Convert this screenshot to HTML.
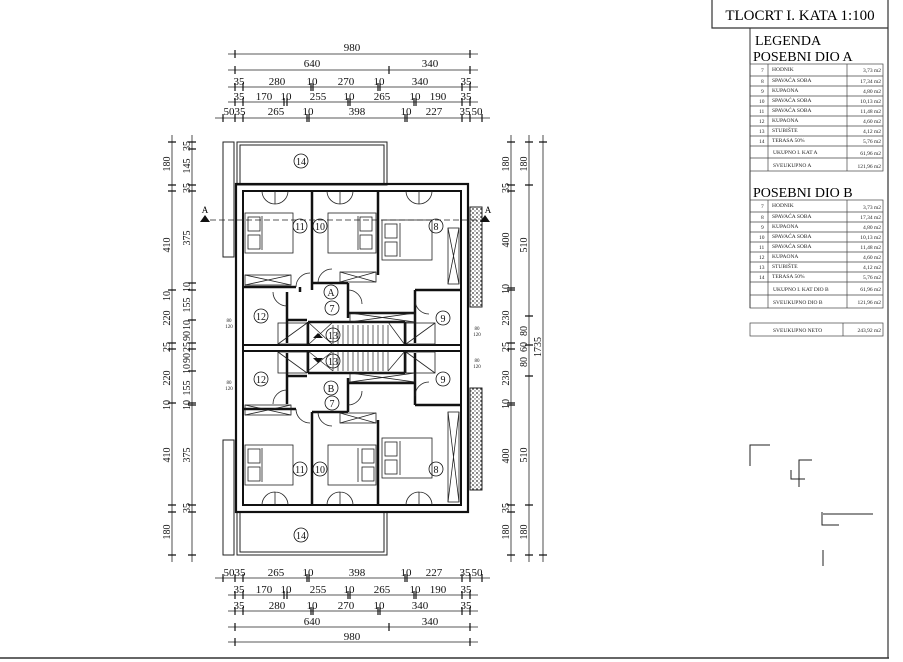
<!DOCTYPE html>
<html><head><meta charset="utf-8"><style>
html,body{margin:0;padding:0;background:#fff;}
svg{display:block;font-family:"Liberation Serif",serif;}
</style></head><body>
<svg width="903" height="662" viewBox="0 0 903 662" xmlns="http://www.w3.org/2000/svg">
<rect width="903" height="662" fill="#fff"/>
<line x1="0" y1="658" x2="889" y2="658" stroke="#333" stroke-width="1.5"/>
<line x1="888" y1="0" x2="888" y2="658" stroke="#333" stroke-width="1.2"/>
<polyline points="712,0 712,28 888,28" fill="none" stroke="#333" stroke-width="1.2"/>
<text x="800" y="20" font-size="15" text-anchor="middle">TLOCRT I. KATA 1:100</text>
<line x1="750" y1="28" x2="750" y2="308" stroke="#333"/>
<text x="755" y="45" font-size="14">LEGENDA</text>
<text x="753" y="61" font-size="14">POSEBNI DIO A</text>
<g font-size="5.5" fill="#222">
<g stroke="#444" stroke-width="0.7" fill="none">
<rect x="750" y="64" width="133" height="107"/>
<line x1="768" y1="64" x2="768" y2="171"/><line x1="847" y1="64" x2="847" y2="171"/>
<line x1="750" y1="76" x2="883" y2="76"/><line x1="750" y1="86" x2="883" y2="86"/>
<line x1="750" y1="96" x2="883" y2="96"/><line x1="750" y1="106" x2="883" y2="106"/>
<line x1="750" y1="116" x2="883" y2="116"/><line x1="750" y1="126" x2="883" y2="126"/>
<line x1="750" y1="136" x2="883" y2="136"/><line x1="750" y1="146" x2="883" y2="146"/>
<line x1="750" y1="158" x2="883" y2="158"/>
</g>
<text x="761" y="72">7</text><text x="772" y="71">HODNIK</text><text x="881" y="72" text-anchor="end">3,73 m2</text>
<text x="761" y="83">8</text><text x="772" y="82">SPAVAĆA SOBA</text><text x="881" y="83" text-anchor="end">17,34 m2</text>
<text x="761" y="93">9</text><text x="772" y="92">KUPAONA</text><text x="881" y="93" text-anchor="end">4,80 m2</text>
<text x="759" y="103">10</text><text x="772" y="102">SPAVAĆA SOBA</text><text x="881" y="103" text-anchor="end">10,13 m2</text>
<text x="759" y="113">11</text><text x="772" y="112">SPAVAĆA SOBA</text><text x="881" y="113" text-anchor="end">11,48 m2</text>
<text x="759" y="123">12</text><text x="772" y="122">KUPAONA</text><text x="881" y="123" text-anchor="end">4,60 m2</text>
<text x="759" y="133">13</text><text x="772" y="132">STUBIŠTE</text><text x="881" y="133" text-anchor="end">4,12 m2</text>
<text x="759" y="143">14</text><text x="772" y="142">TERASA 50%</text><text x="881" y="143" text-anchor="end">5,76 m2</text>
<text x="773" y="154">UKUPNO I. KAT  A</text><text x="881" y="155" text-anchor="end">61,96 m2</text>
<text x="773" y="167">SVEUKUPNO A</text><text x="881" y="168" text-anchor="end">121,96 m2</text>
</g>
<text x="753" y="197" font-size="14">POSEBNI DIO B</text>
<g font-size="5.5" fill="#222">
<g stroke="#444" stroke-width="0.7" fill="none">
<rect x="750" y="200" width="133" height="108"/>
<line x1="768" y1="200" x2="768" y2="308"/><line x1="847" y1="200" x2="847" y2="308"/>
<line x1="750" y1="212" x2="883" y2="212"/><line x1="750" y1="222" x2="883" y2="222"/>
<line x1="750" y1="232" x2="883" y2="232"/><line x1="750" y1="242" x2="883" y2="242"/>
<line x1="750" y1="252" x2="883" y2="252"/><line x1="750" y1="262" x2="883" y2="262"/>
<line x1="750" y1="272" x2="883" y2="272"/><line x1="750" y1="282" x2="883" y2="282"/>
<line x1="750" y1="295" x2="883" y2="295"/>
</g>
<text x="761" y="208">7</text><text x="772" y="207">HODNIK</text><text x="881" y="209" text-anchor="end">3,73 m2</text>
<text x="761" y="219">8</text><text x="772" y="218">SPAVAĆA SOBA</text><text x="881" y="219" text-anchor="end">17,34 m2</text>
<text x="761" y="229">9</text><text x="772" y="228">KUPAONA</text><text x="881" y="229" text-anchor="end">4,80 m2</text>
<text x="759" y="239">10</text><text x="772" y="238">SPAVAĆA SOBA</text><text x="881" y="239" text-anchor="end">10,13 m2</text>
<text x="759" y="249">11</text><text x="772" y="248">SPAVAĆA SOBA</text><text x="881" y="249" text-anchor="end">11,48 m2</text>
<text x="759" y="259">12</text><text x="772" y="258">KUPAONA</text><text x="881" y="259" text-anchor="end">4,60 m2</text>
<text x="759" y="269">13</text><text x="772" y="268">STUBIŠTE</text><text x="881" y="269" text-anchor="end">4,12 m2</text>
<text x="759" y="279">14</text><text x="772" y="278">TERASA 50%</text><text x="881" y="279" text-anchor="end">5,76 m2</text>
<text x="773" y="291">UKUPNO I. KAT DIO B</text><text x="881" y="291" text-anchor="end">61,96 m2</text>
<text x="773" y="304">SVEUKUPNO DIO B</text><text x="881" y="304" text-anchor="end">121,96 m2</text>
<rect x="750" y="323" width="133" height="13" fill="none" stroke="#444" stroke-width="0.7"/>
<line x1="843" y1="323" x2="843" y2="336" stroke="#444" stroke-width="0.7"/>
<text x="773" y="332">SVEUKUPNO NETO</text><text x="881" y="332" text-anchor="end">243,92 m2</text>
</g>
<g stroke="#222" stroke-width="1" fill="none">
<polyline points="770,445 750,445 750,466"/>
<polyline points="812,460 799,460 799,487"/><polyline points="791,470 791,479 805,479"/>
<polyline points="873,514 823,514"/><polyline points="822,512 822,525 839,525"/>
<line x1="823" y1="550" x2="823" y2="566"/>
</g>

<g stroke="#222" stroke-width="0.8" fill="none">
<line x1="228" y1="54" x2="478" y2="54"/><line x1="228" y1="70" x2="478" y2="70"/>
<line x1="228" y1="87" x2="478" y2="87"/><line x1="228" y1="102" x2="478" y2="102"/>
<line x1="215" y1="118" x2="490" y2="118"/>
<line x1="215" y1="578" x2="490" y2="578"/><line x1="228" y1="595" x2="478" y2="595"/>
<line x1="228" y1="611" x2="478" y2="611"/><line x1="228" y1="627" x2="478" y2="627"/>
<line x1="228" y1="642" x2="478" y2="642"/>
<line x1="172" y1="135" x2="172" y2="562"/><line x1="192" y1="135" x2="192" y2="562"/>
<line x1="511" y1="135" x2="511" y2="562"/><line x1="529" y1="135" x2="529" y2="562"/>
<line x1="543" y1="135" x2="543" y2="562"/>
</g>
<g stroke="#111" stroke-width="1.2">
<path d="M235 50v8M470 50v8 M235 66v8M389 66v8M470 66v8 M235 83v8M243 83v8M311 83v8M313 83v8M378 83v8M380 83v8M462 83v8M470 83v8 M235 98v8M243 98v8M284 98v8M287 98v8M348 98v8M350 98v8M414 98v8M416 98v8M462 98v8M470 98v8 M223 114v8M235 114v8M243 114v8M307 114v8M309 114v8M405 114v8M407 114v8M462 114v8M470 114v8M482 114v8"/>
<path d="M223 574v8M235 574v8M243 574v8M307 574v8M309 574v8M405 574v8M407 574v8M462 574v8M470 574v8M482 574v8 M235 591v8M243 591v8M284 591v8M287 591v8M348 591v8M350 591v8M414 591v8M416 591v8M462 591v8M470 591v8 M235 607v8M243 607v8M311 607v8M313 607v8M378 607v8M380 607v8M462 607v8M470 607v8 M235 623v8M389 623v8M470 623v8 M235 638v8M470 638v8"/>
<path d="M168 142h8M168 185h8M168 191h8M168 290h8M168 343h8M168 349h8M168 403h8M168 505h8M168 512h8M168 555h8 M188 142h8M188 149h8M188 185h8M188 191h8M188 283h8M188 290h8M188 320h8M188 343h8M188 349h8M188 371h8M188 403h8M188 405h8M188 505h8M188 512h8M188 555h8"/>
<path d="M507 142h8M507 185h8M507 191h8M507 288h8M507 290h8M507 343h8M507 349h8M507 403h8M507 405h8M507 505h8M507 512h8M507 555h8 M525 142h8M525 185h8M525 316h8M525 345h8M525 376h8M525 505h8M525 555h8 M539 142h8M539 555h8"/>
</g>
<g font-size="11" fill="#111" text-anchor="middle">
<text x="352" y="51">980</text><text x="312" y="67">640</text><text x="430" y="67">340</text>
<text x="239" y="85">35</text><text x="277" y="85">280</text><text x="312" y="85">10</text><text x="346" y="85">270</text><text x="379" y="85">10</text><text x="420" y="85">340</text><text x="466" y="85">35</text>
<text x="239" y="100">35</text><text x="264" y="100">170</text><text x="286" y="100">10</text><text x="318" y="100">255</text><text x="349" y="100">10</text><text x="382" y="100">265</text><text x="415" y="100">10</text><text x="438" y="100">190</text><text x="466" y="100">35</text>
<text x="229" y="115">50</text><text x="240" y="115">35</text><text x="276" y="115">265</text><text x="308" y="115">10</text><text x="357" y="115">398</text><text x="406" y="115">10</text><text x="434" y="115">227</text><text x="465" y="115">35</text><text x="477" y="115">50</text>
<text x="229" y="576">50</text><text x="240" y="576">35</text><text x="276" y="576">265</text><text x="308" y="576">10</text><text x="357" y="576">398</text><text x="406" y="576">10</text><text x="434" y="576">227</text><text x="465" y="576">35</text><text x="477" y="576">50</text>
<text x="239" y="593">35</text><text x="264" y="593">170</text><text x="286" y="593">10</text><text x="318" y="593">255</text><text x="349" y="593">10</text><text x="382" y="593">265</text><text x="415" y="593">10</text><text x="438" y="593">190</text><text x="466" y="593">35</text>
<text x="239" y="609">35</text><text x="277" y="609">280</text><text x="312" y="609">10</text><text x="346" y="609">270</text><text x="379" y="609">10</text><text x="420" y="609">340</text><text x="466" y="609">35</text>
<text x="312" y="625">640</text><text x="430" y="625">340</text><text x="352" y="640">980</text>
</g>
<g font-size="10" fill="#111" text-anchor="middle">
<text transform="translate(170,164) rotate(-90)">180</text>
<text transform="translate(170,245) rotate(-90)">410</text>
<text transform="translate(170,296) rotate(-90)">10</text>
<text transform="translate(170,318) rotate(-90)">220</text>
<text transform="translate(170,347) rotate(-90)">25</text>
<text transform="translate(170,378) rotate(-90)">220</text>
<text transform="translate(170,405) rotate(-90)">10</text>
<text transform="translate(170,455) rotate(-90)">410</text>
<text transform="translate(170,532) rotate(-90)">180</text>
<text transform="translate(190,146) rotate(-90)">35</text>
<text transform="translate(190,166) rotate(-90)">145</text>
<text transform="translate(190,188) rotate(-90)">35</text>
<text transform="translate(190,238) rotate(-90)">375</text>
<text transform="translate(190,287) rotate(-90)">10</text>
<text transform="translate(190,305) rotate(-90)">155</text>
<text transform="translate(190,325) rotate(-90)">10</text>
<text transform="translate(190,336) rotate(-90)">90</text>
<text transform="translate(190,347) rotate(-90)">25</text>
<text transform="translate(190,358) rotate(-90)">90</text>
<text transform="translate(190,369) rotate(-90)">10</text>
<text transform="translate(190,388) rotate(-90)">155</text>
<text transform="translate(190,405) rotate(-90)">10</text>
<text transform="translate(190,455) rotate(-90)">375</text>
<text transform="translate(190,508) rotate(-90)">35</text>
<text transform="translate(509,164) rotate(-90)">180</text>
<text transform="translate(509,188) rotate(-90)">35</text>
<text transform="translate(509,240) rotate(-90)">400</text>
<text transform="translate(509,289) rotate(-90)">10</text>
<text transform="translate(509,318) rotate(-90)">230</text>
<text transform="translate(509,347) rotate(-90)">25</text>
<text transform="translate(509,378) rotate(-90)">230</text>
<text transform="translate(509,404) rotate(-90)">10</text>
<text transform="translate(509,456) rotate(-90)">400</text>
<text transform="translate(509,508) rotate(-90)">35</text>
<text transform="translate(509,532) rotate(-90)">180</text>
<text transform="translate(527,164) rotate(-90)">180</text>
<text transform="translate(527,245) rotate(-90)">510</text>
<text transform="translate(527,331) rotate(-90)">80</text>
<text transform="translate(527,347) rotate(-90)">60</text>
<text transform="translate(527,362) rotate(-90)">80</text>
<text transform="translate(527,455) rotate(-90)">510</text>
<text transform="translate(527,532) rotate(-90)">180</text>
<text transform="translate(541,347) rotate(-90)">1735</text>
</g>

<g stroke="#222" fill="none" stroke-width="1">
<rect x="237" y="142" width="150" height="43"/><rect x="240" y="145" width="144" height="40"/>
<rect x="223" y="142" width="11" height="115"/>
<rect x="237" y="512" width="150" height="43"/><rect x="240" y="512" width="144" height="40"/>
<rect x="223" y="440" width="11" height="115"/>
</g>
<defs><pattern id="dots" width="4" height="4" patternUnits="userSpaceOnUse"><rect width="4" height="4" fill="#fff"/><circle cx="1" cy="1" r="0.9" fill="#333"/><circle cx="3" cy="3" r="0.7" fill="#555"/></pattern></defs>
<rect x="470" y="207" width="12" height="100" fill="url(#dots)" stroke="#222"/>
<rect x="470" y="388" width="12" height="102" fill="url(#dots)" stroke="#222"/>

<g stroke="#111" fill="none">
<rect x="236" y="184" width="232" height="328" stroke-width="2.2"/>
<rect x="243" y="191" width="218" height="314" stroke-width="2"/>
<line x1="243" y1="345" x2="461" y2="345" stroke-width="2"/>
<line x1="243" y1="351" x2="461" y2="351" stroke-width="2"/>
<g stroke-width="2.5">
<path d="M312 191V290 M378 191V275 M243 287H296 M312 283H348 M348 283V318 M348 313H415 M415 290H461 M415 290V343"/>
<path d="M287 292V343 M287 320H307 M308 322H405 M308 322V345 M405 322V345 M300 287V292"/>
<path d="M312 412V505 M378 420V505 M243 409H296 M312 412H348 M348 378V412 M348 383H415 M415 405H461 M415 353V405"/>
<path d="M287 353V404 M287 376H307 M308 373H405 M308 351V373 M405 351V373"/>
</g>
</g>
<g stroke="#222" stroke-width="0.7">
<path d="M333 325V345M338 325V345M343 325V345M348 325V345M353 325V345M358 325V345M363 325V345M368 325V345M373 325V345M378 325V345M383 325V345M388 325V345"/>
<path d="M333 351V371M338 351V371M343 351V371M348 351V371M353 351V371M358 351V371M363 351V371M368 351V371M373 351V371M378 351V371M383 351V371M388 351V371"/>
<path d="M308 322L333 345M308 345L333 322M308 351L333 371M308 371L333 351M388 322L405 345M388 371L405 351" fill="none"/>
</g>
<path d="M313 338l5-5 5 5z M313 358l5 5 5-5z" fill="#111"/>
<g stroke="#222" stroke-width="0.8" fill="none">
<rect x="278" y="323" width="29" height="21"/><path d="M278 344L307 323"/>
<rect x="406" y="323" width="29" height="21"/><path d="M406 344L435 323"/>
<rect x="278" y="352" width="29" height="21"/><path d="M278 352L307 373"/>
<rect x="406" y="352" width="29" height="21"/><path d="M406 352L435 373"/>
<rect x="245" y="275" width="46" height="10"/><path d="M245 275L291 285M245 285L291 275"/>
<rect x="340" y="272" width="36" height="10"/><path d="M340 272L376 282M340 282L376 272"/>
<rect x="245" y="405" width="46" height="10"/><path d="M245 405L291 415M245 415L291 405"/>
<rect x="340" y="413" width="36" height="10"/><path d="M340 413L376 423M340 423L376 413"/>
<rect x="448" y="228" width="11" height="56"/><path d="M448 228L459 284M459 228L448 284"/>
<rect x="448" y="412" width="11" height="90"/><path d="M448 412L459 502M459 412L448 502"/>
<rect x="350" y="313" width="65" height="9"/><path d="M350 313L415 322M350 322L415 313"/>
<rect x="350" y="373" width="65" height="9"/><path d="M350 373L415 382M350 382L415 373"/>
<rect x="245" y="213" width="48" height="40"/><rect x="248" y="217" width="12" height="14"/><rect x="248" y="235" width="12" height="14"/><path d="M262 216V250"/>
<rect x="328" y="213" width="48" height="40"/><rect x="360" y="217" width="12" height="14"/><rect x="360" y="235" width="12" height="14"/><path d="M358 216V250"/>
<rect x="382" y="220" width="50" height="40"/><rect x="385" y="224" width="12" height="14"/><rect x="385" y="242" width="12" height="14"/><path d="M400 223V257"/>
<rect x="245" y="445" width="48" height="40"/><rect x="248" y="449" width="12" height="14"/><rect x="248" y="467" width="12" height="14"/><path d="M262 448V482"/>
<rect x="328" y="445" width="48" height="40"/><rect x="362" y="449" width="12" height="14"/><rect x="362" y="467" width="12" height="14"/><path d="M358 448V482"/>
<rect x="382" y="438" width="50" height="40"/><rect x="385" y="442" width="12" height="14"/><rect x="385" y="460" width="12" height="14"/><path d="M400 441V475"/>
<path d="M262 191A13 13 0 0 0 275 204V191 M288 191A13 13 0 0 1 275 204 M327 191A13 13 0 0 0 340 204V191M353 191A13 13 0 0 1 340 204 M406 191A13 13 0 0 0 419 204V191M432 191A13 13 0 0 1 419 204"/>
<path d="M262 505A13 13 0 0 1 275 492V505 M288 505A13 13 0 0 0 275 492 M327 505A13 13 0 0 1 340 492V505M353 505A13 13 0 0 0 340 492 M406 505A13 13 0 0 1 419 492V505M432 505A13 13 0 0 0 419 492"/>
<path d="M296 287A14 14 0 0 1 310 273 M318 283A14 14 0 0 1 332 269 M348 290A14 14 0 0 1 362 304 M287 306A14 14 0 0 1 273 292 M415 300A14 14 0 0 0 429 314"/>
<path d="M296 409A14 14 0 0 0 310 423 M318 412A14 14 0 0 0 332 426 M348 405A14 14 0 0 0 362 391 M287 390A14 14 0 0 0 273 404 M415 396A14 14 0 0 1 429 382"/>
</g>
<g font-size="10" text-anchor="middle" fill="#111">
<g stroke="#111" fill="none" stroke-width="0.8">
<circle cx="301" cy="161" r="7"/><circle cx="301" cy="535" r="7"/>
<circle cx="300" cy="226" r="7"/><circle cx="320" cy="226" r="7"/><circle cx="436" cy="226" r="7"/>
<circle cx="300" cy="469" r="7"/><circle cx="320" cy="469" r="7"/><circle cx="436" cy="469" r="7"/>
<circle cx="331" cy="292" r="7"/><circle cx="332" cy="308" r="7"/><circle cx="331" cy="388" r="7"/><circle cx="332" cy="403" r="7"/>
<circle cx="261" cy="316" r="7"/><circle cx="443" cy="318" r="7"/><circle cx="261" cy="379" r="7"/><circle cx="443" cy="379" r="7"/>
<circle cx="333" cy="335" r="7"/><circle cx="333" cy="361" r="7"/>
</g>
<text x="301" y="165">14</text><text x="301" y="539">14</text>
<text x="300" y="230">11</text><text x="320" y="230">10</text><text x="436" y="230">8</text>
<text x="300" y="473">11</text><text x="320" y="473">10</text><text x="436" y="473">8</text>
<text x="331" y="296">A</text><text x="332" y="312">7</text><text x="331" y="392">B</text><text x="332" y="407">7</text>
<text x="261" y="320">12</text><text x="443" y="322">9</text><text x="261" y="383">12</text><text x="443" y="383">9</text>
<text x="333" y="339">13</text><text x="333" y="365">13</text>
</g>
<line x1="210" y1="220" x2="485" y2="220" stroke="#222" stroke-dasharray="6,3" stroke-width="0.8"/>
<path d="M200 222l5-7 5 7z M480 222l5-7 5 7z" fill="#111"/>
<text x="205" y="213" font-size="9" text-anchor="middle">A</text><text x="488" y="213" font-size="9" text-anchor="middle">A</text>
<g font-size="5" fill="#222" text-anchor="middle">
<text x="229" y="322">80</text><text x="229" y="328">120</text><text x="229" y="384">80</text><text x="229" y="390">120</text>
<text x="477" y="330">80</text><text x="477" y="336">120</text><text x="477" y="362">80</text><text x="477" y="368">120</text>
</g>
</svg>
</body></html>
